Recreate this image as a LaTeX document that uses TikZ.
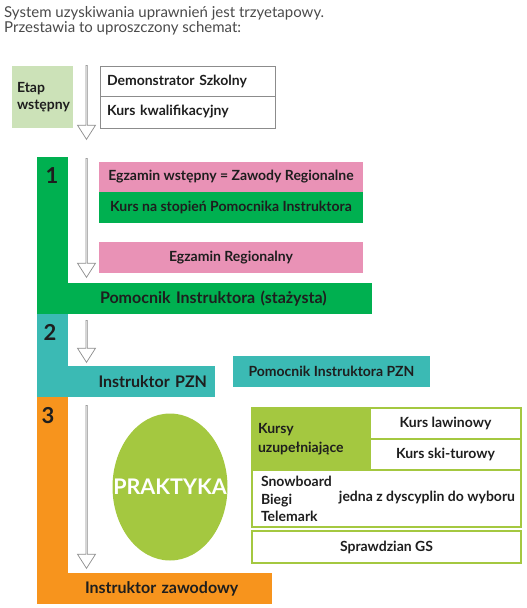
\documentclass[tikz,border=0pt]{standalone}
\usepackage{fontspec}
\setmainfont{Lato}
\usetikzlibrary{positioning, shapes.geometric, shapes.arrows}
\definecolor{etapgreen}{HTML}{CCE2B8}
\definecolor{pzngreen}{HTML}{00B050}
\definecolor{pznpink}{HTML}{E992B6}
\definecolor{pznteal}{HTML}{3BBAB4}
\definecolor{pznorange}{HTML}{F7941D}
\definecolor{pznlime}{HTML}{A4C840}
\definecolor{pzngrey}{HTML}{8C8C8C}
\definecolor{pzntext}{HTML}{1E1E1E}
\definecolor{titlegrey}{HTML}{4A4A4A}

\begin{document}
\begin{tikzpicture}[x=1pt, y=-1pt, font=\fontsize{14}{16}\selectfont\bfseries,
    cell/.style={anchor=north west, inner sep=0, outer sep=0, text=pzntext, align=center},
    bar/.style={anchor=north west, inner sep=0, outer sep=0, fill=#1, text=pzntext,
      font=\fontsize{16}{18}\selectfont\bfseries},
    num/.style={text=pzntext, font=\fontsize{22}{24}\selectfont\bfseries},
    title/.style={anchor=base west, inner sep=0, text=titlegrey, font=\fontsize{15}{16}\selectfont},
    down/.style={single arrow, shape border rotate=270, draw=pzngrey, fill=white,
      line width=0.7pt, minimum width=18pt, single arrow head extend=4.5pt,
      single arrow tip angle=65, inner sep=0, anchor=tail}]
  \useasboundingbox (0,0) rectangle (527,608);

  \node[title] (title1) at (4,17) {System uzyskiwania uprawnień jest trzyetapowy.};
  \node[title] (title2) at (4,32) {Przestawia to uproszczony schemat:};

  % etap wstepny
  \node[cell, fill=etapgreen, minimum width=61, minimum height=62, text width=51, align=left,
    font=\fontsize{14}{17}\selectfont\bfseries] (etap) at (12,66) {Etap\\wstępny};
  \node[cell, draw=pzngrey, minimum width=175, minimum height=30, text width=161, align=left] (demo) at (100,66) {Demonstrator Szkolny};
  \node[cell, draw=pzngrey, minimum width=175, minimum height=32, text width=161, align=left, below=0pt of demo] (kwal) {Kurs kwalifikacyjny};
  \node[down, minimum height=74] (a0) at (86.5,65) {};

  % etap 1
  \node[bar=pzngreen, minimum width=31, minimum height=157] (s1v) at (37,157) {};
  \node[bar=pzngreen, minimum width=304, minimum height=31, inner xsep=32, text width=240, align=left] (s1h) at (68,283) {Pomocnik Instruktora (stażysta)};
  \node[num] (n1) at (52,176) {1};
  \node[cell, fill=pznpink, minimum width=264, minimum height=30] (ezw) at (99,162) {Egzamin wstępny = Zawody Regionalne};
  \node[cell, fill=pzngreen, minimum width=264, minimum height=31, below=0pt of ezw] (kpi) {Kurs na stopień Pomocnika Instruktora};
  \node[cell, fill=pznpink, minimum width=264, minimum height=31, below=19pt of kpi] (ereg) {Egzamin Regionalny};
  \node[down, minimum height=119] (a1) at (86.5,158) {};

  % etap 2
  \node[bar=pznteal, minimum width=31, minimum height=83] (s2v) at (37,314) {};
  \node[bar=pznteal, minimum width=147, minimum height=31, inner xsep=8, text width=131, align=right] (s2h) at (68,366) {Instruktor PZN};
  \node[num] (n2) at (50,332) {2};
  \node[cell, fill=pznteal, minimum width=197, minimum height=31] (pipzn) at (233,356) {Pomocnik Instruktora PZN};
  \node[down, minimum height=42] (a2) at (86.5,320) {};

  % etap 3
  \node[bar=pznorange, minimum width=31, minimum height=207] (s3v) at (37,397) {};
  \node[bar=pznorange, minimum width=204, minimum height=31, inner xsep=17, text width=170, align=left] (s3h) at (68,573) {Instruktor zawodowy};
  \node[num] (n3) at (48,416) {3};
  \node[down, minimum height=163] (a3) at (86.5,405) {};
  \node[ellipse, fill=pznlime, minimum width=115, minimum height=147, inner sep=0] (prak) at (170,487) {};
  \node[text=white, font=\fontsize{21.5}{23}\selectfont\bfseries] (praktxt) at (prak) {PRAKTYKA};

  \node[cell, fill=pznlime, draw=pznlime, line width=1.2pt, minimum width=118, minimum height=62, text width=106, align=left,
    font=\fontsize{14}{19}\selectfont\bfseries] (kursy) at (252,408) {Kursy\\uzupełniające};
  \node[cell, draw=pznlime, line width=1.2pt, minimum width=151, minimum height=31] (lawin) at (370,408) {Kurs lawinowy};
  \node[cell, draw=pznlime, line width=1.2pt, minimum width=151, minimum height=31, below=0pt of lawin] (skit) {Kurs ski-turowy};
  \node[cell, draw=pznlime, line width=1.2pt, minimum width=269, minimum height=57] (disc) at (252,470) {};
  \node[cell, anchor=west, align=left, font=\fontsize{14}{17.5}\selectfont\bfseries] (discl) at (261,499) {Snowboard\\Biegi\\Telemark};
  \node[cell, anchor=center] (discr) at (427,498) {jedna z dyscyplin do wyboru};
  \node[cell, draw=pznlime, line width=1.2pt, minimum width=269, minimum height=32] (gs) at (252,531) {Sprawdzian GS};
\end{tikzpicture}
\end{document}
